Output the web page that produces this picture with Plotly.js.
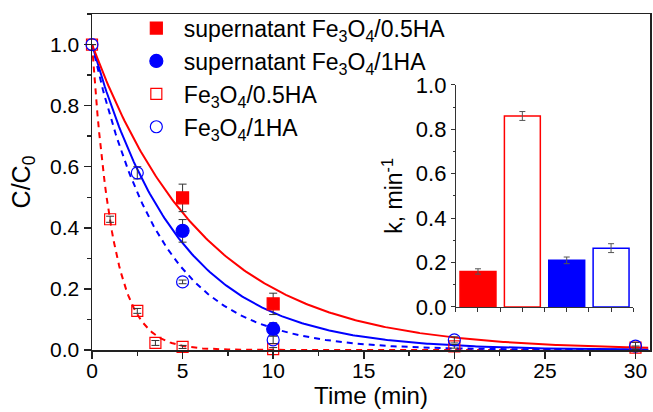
<!DOCTYPE html>
<html><head><meta charset="utf-8">
<script src="https://cdn.plot.ly/plotly-3.0.1.min.js"></script>
<style>html,body{margin:0;padding:0;background:#fff}#chart{width:653px;height:412px}</style>
</head><body><div id="chart"></div>
<script>
// ---- data ----
const seriesNames = [
  'supernatant Fe<sub>3</sub>O<sub>4</sub>/0.5HA',
  'supernatant Fe<sub>3</sub>O<sub>4</sub>/1HA',
  'Fe<sub>3</sub>O<sub>4</sub>/0.5HA',
  'Fe<sub>3</sub>O<sub>4</sub>/1HA'
];
const supHalfT = [5, 10];
const supHalfC = [0.498, 0.151];
const supHalfErr = [0.045, 0.035];

const supOneT = [5, 10];
const supOneC = [0.39, 0.069];
const supOneErr = [0.037, 0.02];

const halfT = [0, 1, 2.5, 3.5, 5, 10, 20, 30];
const halfC = [1.0, 0.428, 0.128, 0.023, 0.01, 0.003, 0.012, 0.008];
const halfErr = [0, 0.01, 0.008, 0.008, 0.005, 0.005, 0.006, 0.005];

const oneT = [0, 2.5, 5, 10, 20, 30];
const oneC = [1.0, 0.58, 0.223, 0.033, 0.033, 0.013];
const oneErr = [0, 0.02, 0.006, 0.012, 0.01, 0.012];

// first-order rate constants k (min^-1), same order as seriesNames
const kValues = [0.16, 0.21, 0.86, 0.265];
const kErr = [0.012, 0.015, 0.02, 0.02];
// inset bar order: sup 0.5HA, 0.5HA, sup 1HA, 1HA
const kOrder = [0, 2, 1, 3];
// fit time grid
const fitT = [];
for (let t = 0; t <= 30.8; t += 0.1) fitT.push(+t.toFixed(2));

const RED = '#ff0000', BLUE = '#0000ff';
const FONT = 'Liberation Sans, Arial, sans-serif';

function fit(k, color, dash) {
  return {x: fitT, y: fitT.map(t => Math.exp(-k * t)), mode: 'lines', type: 'scatter',
    line: {color: color, width: 2, dash: dash}, showlegend: false, hoverinfo: 'skip',
    xaxis: 'x', yaxis: 'y'};
}
function pts(name, x, y, err, symbol, color, size) {
  return {x: x, y: y, name: name, type: 'scatter', mode: 'markers', cliponaxis: false,
    marker: {symbol: symbol, color: color, size: size, line: {color: color, width: 1.2}},
    error_y: {type: 'data', array: err, visible: true, color: '#333', thickness: 1, width: 4},
    xaxis: 'x', yaxis: 'y'};
}

const traces = [
  fit(kValues[2], RED, '6px,5px'),
  fit(kValues[3], BLUE, '6px,5px'),
  fit(kValues[1], BLUE, 'solid'),
  fit(kValues[0], RED, 'solid'),
  pts(seriesNames[0], supHalfT, supHalfC, supHalfErr, 'square', RED, 12),
  pts(seriesNames[1], supOneT, supOneC, supOneErr, 'circle', BLUE, 13),
  pts(seriesNames[2], halfT, halfC, halfErr, 'square-open', RED, 11),
  pts(seriesNames[3], oneT, oneC, oneErr, 'circle-open', BLUE, 12)
];

const barX = kOrder.map((s, i) => i + 1);
const barY = kOrder.map(s => kValues[s]);
const barE = kOrder.map(s => kErr[s]);
const barFill = ['#ff0000', '#ffffff', '#0000ff', '#ffffff'];
const barLine = ['#ff0000', '#ff0000', '#0000ff', '#0000ff'];
traces.push({
  type: 'bar', x: barX, y: barY, width: 0.81, showlegend: false,
  text: kOrder.map(s => seriesNames[s]), hoverinfo: 'text+y', textposition: 'none',
  marker: {color: barFill, line: {color: barLine, width: 1.5}},
  error_y: {type: 'data', array: barE, visible: true, color: '#555', thickness: 1, width: 3},
  xaxis: 'x2', yaxis: 'y2'
});

const layout = {
  width: 653, height: 412,
  margin: {l: 92, r: 3, t: 14, b: 62},
  paper_bgcolor: '#fff', plot_bgcolor: 'rgba(0,0,0,0)',
  font: {family: FONT, color: '#000', size: 20},
  showlegend: true,
  legend: {x: 0.066, y: 1.022, xanchor: 'left', yanchor: 'top', bgcolor: 'rgba(0,0,0,0)',
    font: {family: FONT, size: 23, color: '#000'}, tracegroupgap: 1, itemwidth: 45},
  xaxis: {domain: [0, 1], range: [0, 30.8], dtick: 5, tick0: 0,
    showline: true, linecolor: '#222', linewidth: 1.5, mirror: true,
    ticks: 'outside', ticklen: 7, tickwidth: 1.5, tickcolor: '#222',
    ticklabelstandoff: -6,
    minor: {dtick: 2.5, ticks: 'outside', ticklen: 4, tickcolor: '#222'},
    showgrid: false, zeroline: false, tickfont: {size: 21},
    title: {text: 'Time (min)', font: {size: 24}, standoff: 2}},
  yaxis: {domain: [0, 1], range: [0, 1.1], dtick: 0.2, tick0: 0, tickformat: '.1f',
    showline: true, linecolor: '#222', linewidth: 1.5, mirror: true,
    ticks: 'outside', ticklen: 7, tickwidth: 1.5, tickcolor: '#222',
    minor: {dtick: 0.1, ticks: 'outside', ticklen: 4, tickcolor: '#222'},
    showgrid: false, zeroline: false, tickfont: {size: 21},
    title: {text: 'C/C<sub>0</sub>', font: {size: 25}, standoff: 12}},
  xaxis2: {domain: [0.652, 0.970], anchor: 'y2', range: [0.5, 4.5], tick0: 0.5, dtick: 0.5,
    showticklabels: false, showline: true, linecolor: '#333', linewidth: 1,
    ticks: 'outside', ticklen: 4, tickcolor: '#333', showgrid: false, zeroline: false},
  yaxis2: {domain: [0.128, 0.789], anchor: 'x2', range: [0, 1.0], dtick: 0.2, tick0: 0,
    tickformat: '.1f', showline: true, linecolor: '#333', linewidth: 1,
    ticks: 'outside', ticklen: 4, tickcolor: '#333',
    minor: {dtick: 0.1, ticks: 'outside', ticklen: 2, tickcolor: '#333'},
    showgrid: false, zeroline: false, tickfont: {size: 22},
    title: {text: 'k, min<sup>-1</sup>', font: {size: 23}, standoff: 6}}
};

Plotly.newPlot('chart', traces, layout, {displayModeBar: false, staticPlot: true});
</script></body></html>
